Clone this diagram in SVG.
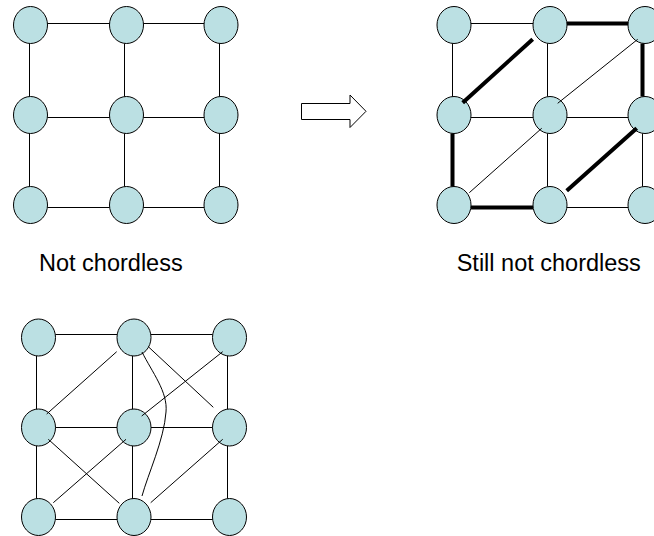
<svg xmlns="http://www.w3.org/2000/svg" width="654" height="536" viewBox="0 0 654 536">
<style>
.n{fill:#BBE0E3;stroke:#000;stroke-width:1}
.e{stroke:#000;stroke-width:1;fill:none}
.b{stroke:#000;stroke-width:4;fill:none}
.t{font-family:"Liberation Sans",Arial,sans-serif;font-size:23.5px;fill:#000}
</style>
<rect width="654" height="536" fill="#fff"/>
<g id="nodes-top-left">
<g id="tl-00"><ellipse class="n" cx="30.5" cy="25" rx="17" ry="18.5"/></g>
<g id="tl-01"><ellipse class="n" cx="126.5" cy="25" rx="17" ry="18.5"/></g>
<g id="tl-02"><ellipse class="n" cx="221" cy="25" rx="17" ry="18.5"/></g>
<g id="tl-10"><ellipse class="n" cx="30.5" cy="115" rx="17" ry="18.5"/></g>
<g id="tl-11"><ellipse class="n" cx="126.5" cy="115" rx="17" ry="18.5"/></g>
<g id="tl-12"><ellipse class="n" cx="221" cy="115" rx="17" ry="18.5"/></g>
<g id="tl-20"><ellipse class="n" cx="30.5" cy="205" rx="17" ry="18.5"/></g>
<g id="tl-21"><ellipse class="n" cx="126.5" cy="205" rx="17" ry="18.5"/></g>
<g id="tl-22"><ellipse class="n" cx="221" cy="205" rx="17" ry="18.5"/></g>
</g>
<g id="nodes-top-right">
<g id="tr-00"><ellipse class="n" cx="454" cy="25" rx="17" ry="18.5"/></g>
<g id="tr-01"><ellipse class="n" cx="550" cy="25" rx="17" ry="18.5"/></g>
<g id="tr-02"><ellipse class="n" cx="645" cy="25" rx="17" ry="18.5"/></g>
<g id="tr-10"><ellipse class="n" cx="454" cy="115" rx="17" ry="18.5"/></g>
<g id="tr-11"><ellipse class="n" cx="550" cy="115" rx="17" ry="18.5"/></g>
<g id="tr-12"><ellipse class="n" cx="645" cy="115" rx="17" ry="18.5"/></g>
<g id="tr-20"><ellipse class="n" cx="454" cy="205" rx="17" ry="18.5"/></g>
<g id="tr-21"><ellipse class="n" cx="550" cy="205" rx="17" ry="18.5"/></g>
<g id="tr-22"><ellipse class="n" cx="645" cy="205" rx="17" ry="18.5"/></g>
</g>
<g id="nodes-bottom">
<g id="bt-00"><ellipse class="n" cx="38.5" cy="337.5" rx="17" ry="18.5"/></g>
<g id="bt-01"><ellipse class="n" cx="134" cy="337.5" rx="17" ry="18.5"/></g>
<g id="bt-02"><ellipse class="n" cx="229.5" cy="337.5" rx="17" ry="18.5"/></g>
<g id="bt-10"><ellipse class="n" cx="38.5" cy="427.5" rx="17" ry="18.5"/></g>
<g id="bt-11"><ellipse class="n" cx="134" cy="427.5" rx="17" ry="18.5"/></g>
<g id="bt-12"><ellipse class="n" cx="229.5" cy="427.5" rx="17" ry="18.5"/></g>
<g id="bt-20"><ellipse class="n" cx="38.5" cy="517" rx="17" ry="18.5"/></g>
<g id="bt-21"><ellipse class="n" cx="134" cy="517" rx="17" ry="18.5"/></g>
<g id="bt-22"><ellipse class="n" cx="229.5" cy="517" rx="17" ry="18.5"/></g>
</g>
<g id="connectors">
<!-- top-left grid -->
<path class="e" d="M47.5,23.5H109.5M143.5,23.5H204M47.5,117.5H109.5M143.5,117.5H204M47.5,207.5H109.5M143.5,207.5H204"/>
<path class="e" d="M29.5,43.5V96.5M29.5,133.5V186.5M124.5,43.5V96.5M124.5,133.5V186.5M219.5,43.5V96.5M219.5,133.5V186.5"/>
<!-- top-right grid thin -->
<path class="e" d="M471,23.5H533M471,117.5H533M567,117.5H628M567,207.5H628M452.5,43.5V96.5M547.5,43.5V96.5M547.5,133.5V186.5M642.5,133.5V186.5"/>
<path class="e" d="M637.7,39.3L557.7,103.3M541.7,128.3L469.3,192.7"/>
<!-- top-right bold cycle -->
<path class="b" d="M567,23.5H628M642.5,43.5V96.5M452.5,133.5V186.5M471,207.5H533M462.7,102.7L532.7,39.3M566.7,190.7L636.7,128.3"/>
<!-- bottom grid -->
<path class="e" d="M55.5,334.5H117M151,334.5H212.5M55.5,427.5H117M151,427.5H212.5M55.5,519.5H117M151,519.5H212.5"/>
<path class="e" d="M36.5,356V409M36.5,446V498.5M132.5,356V409M132.5,446V498.5M227.5,356V409M227.5,446V498.5"/>
<!-- bottom chords -->
<path class="e" d="M116.7,351.7L46.7,414M148.3,346.7L213.3,407.3M222.7,351.7L141.7,416M48.3,439.3L119.3,503.3M126,439.3L53.3,502.7M150.7,502.7L222.7,439.3"/>
<path class="e" d="M142,352C152,372 168,392 166,412C164,440 148,474 142,496"/>
</g>
<g id="arrow">
<polygon points="301.5,103.5 350,103.5 350,95 366,111.3 350,127.5 350,119.5 301.5,119.5" fill="#fff" stroke="#000" stroke-width="1"/>
</g>
<g id="labels">
<text class="t" x="39" y="271">Not chordless</text>
<text class="t" x="456.7" y="271">Still not chordless</text>
</g>
</svg>
